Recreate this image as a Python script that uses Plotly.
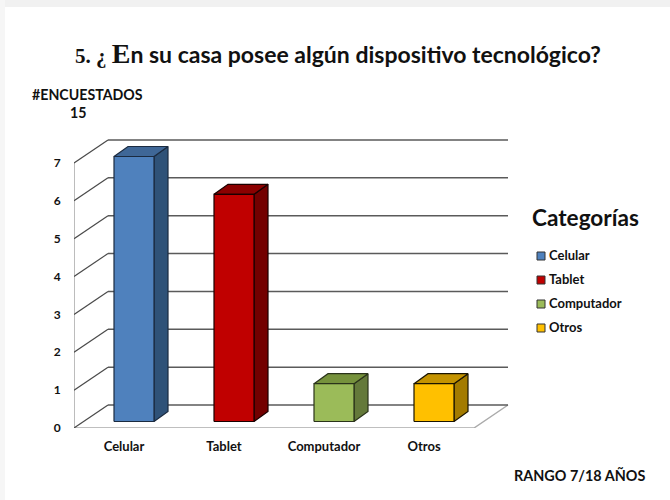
import plotly.graph_objects as go

categories = ["Celular", "Tablet", "Computador", "Otros"]
values = [7, 6, 1, 1]
y_ticks = [0, 1, 2, 3, 4, 5, 6, 7]
front_colors = ["#4F81BD", "#C00000", "#9BBB59", "#FFC000"]
top_colors = ["#3F6797", "#8B0000", "#76923C", "#C49300"]
side_colors = ["#2F5278", "#730000", "#64793A", "#A37B00"]
edge_colors = ["#1B2B40", "#1A0000", "#2A331A", "#1A1400"]

W, H = 670, 500
L, R, T, B = 74, 670, 139, 428
PX_X, PX_Y = 100.0, 37.86
XR = (R - L) / PX_X
YR = (B - T) / PX_Y
WALL_DX, WALL_DY = 34 / PX_X, 23 / PX_Y
BAR_DX, BAR_DY = 0.10, 6.5 / PX_Y
DEPTH_DX, DEPTH_DY = 14 / PX_X, 10 / PX_Y
BAR_W = 0.40
FONT = "Lato"

fig = go.Figure()

def seg(xs, ys, color, width):
    fig.add_trace(go.Scatter(x=xs, y=ys, mode="lines", showlegend=False, hoverinfo="skip",
                             line=dict(color=color, width=width)))

# left wall and floor
seg([0, 0], [0, 7], "#A6A6A6", 1.5)
n = len(categories)
seg([0, n, n + WALL_DX], [0, 0, WALL_DY], "#ABABAB", 1.5)
for i in range(n + 1):
    seg([i, i], [0, -0.13], "#9A9A9A", 1)

# back wall grid lines with their oblique side-wall parts
for v in y_ticks:
    seg([WALL_DX, n + WALL_DX], [v + WALL_DY, v + WALL_DY], "#5A5A5A", 1.5)
    seg([0, WALL_DX], [v, v + WALL_DY], "#4A4A4A", 1.2)

def face(xs, ys, fill, edge):
    fig.add_trace(go.Scatter(x=xs, y=ys, mode="lines", fill="toself", fillcolor=fill,
                             showlegend=False, hoverinfo="skip", line=dict(color=edge, width=1.2)))

# bars
for i, v in enumerate(values):
    x0 = i + BAR_DX + 0.30
    x1 = x0 + BAR_W
    y0 = BAR_DY
    y1 = v + BAR_DY
    face([x1, x1 + DEPTH_DX, x1 + DEPTH_DX, x1, x1],
         [y0, y0 + DEPTH_DY, y1 + DEPTH_DY, y1, y0], side_colors[i], edge_colors[i])
    face([x0, x0 + DEPTH_DX, x1 + DEPTH_DX, x1, x0],
         [y1, y1 + DEPTH_DY, y1 + DEPTH_DY, y1, y1], top_colors[i], edge_colors[i])
    face([x0, x1, x1, x0, x0], [y0, y0, y1, y1, y0], front_colors[i], edge_colors[i])

# legend column: swatches and their labels
leg_rows = (256, 280, 304, 328)
fig.add_trace(go.Scatter(
    x=[(541 - L) / PX_X] * n, y=[(B - p) / PX_Y for p in leg_rows], mode="markers",
    marker=dict(symbol="square", size=8, color=front_colors, line=dict(color="#333333", width=1)),
    cliponaxis=False, showlegend=False, hoverinfo="skip"))
fig.add_trace(go.Scatter(
    x=[(549 - L) / PX_X] * n, y=[(B - p - 0.5) / PX_Y for p in leg_rows], mode="text",
    text=categories, textposition="middle right",
    textfont=dict(family=FONT, size=13, color="#111111", weight="bold"),
    cliponaxis=False, showlegend=False, hoverinfo="skip"))

def note(text, px, py, size, anchor="left", family=FONT):
    fig.add_annotation(text=text, xref="paper", yref="paper", showarrow=False,
                       x=(px - L) / (R - L), y=(B - py) / (B - T), xanchor=anchor, yanchor="middle",
                       font=dict(family=family, size=size, color="#111111", weight="bold"))

note('<span style="font-family:Liberation Serif;font-size:21px">5. ¿ </span>'
     '<span style="font-family:Liberation Serif;font-size:28px">E</span>'
     'n su casa posee algún dispositivo tecnológico?', 73, 53, 23)
note("#ENCUESTADOS", 30, 94, 14.2)
note("15", 68, 113, 14.2)
note("Categorías", 530, 217, 22.6)
note("RANGO 7/18 AÑOS", 512, 475, 14.4)

fig.update_layout(
    width=W, height=H, autosize=False, paper_bgcolor="white", plot_bgcolor="rgba(0,0,0,0)",
    margin=dict(l=L, r=W - R, t=T, b=H - B), showlegend=False,
    xaxis=dict(range=[0, XR], tickmode="array", tickvals=[i + 0.5 for i in range(n)], ticktext=categories,
               showgrid=False, zeroline=False, showline=False, ticks="outside", ticklen=6,
               tickcolor="rgba(0,0,0,0)", tickfont=dict(family=FONT, size=13, color="#111111", weight="bold")),
    yaxis=dict(range=[0, YR], tickmode="array", tickvals=y_ticks, showgrid=False, zeroline=False,
               showline=False, ticks="outside", ticklen=10, tickcolor="rgba(0,0,0,0)",
               tickfont=dict(family=FONT, size=12, color="#111111", weight="bold")),
    shapes=[
        dict(type="rect", xref="paper", yref="paper", layer="below", line=dict(width=0), fillcolor="#F1F1F1",
             x0=-L / (R - L), x1=(W - L) / (R - L), y0=(B - 7) / (B - T), y1=B / (B - T)),
        dict(type="rect", xref="paper", yref="paper", layer="below", line=dict(width=0), fillcolor="#F6F6F6",
             x0=-L / (R - L), x1=(5 - L) / (R - L), y0=(B - H) / (B - T), y1=B / (B - T)),
    ],
)

fig.write_html("out.html", config={"displayModeBar": False},
               post_script="document.body.style.margin='0';")
